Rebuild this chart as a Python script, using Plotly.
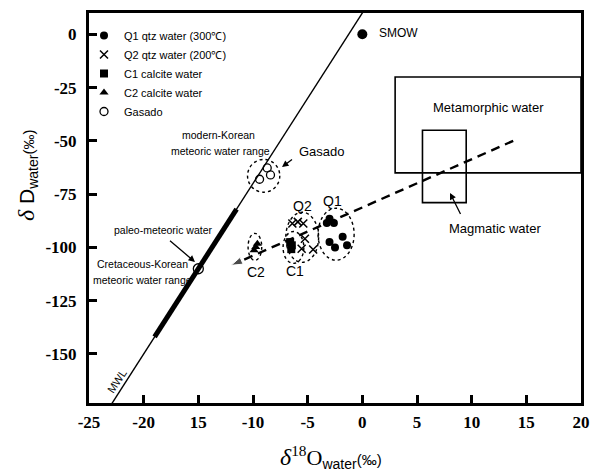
import plotly.graph_objects as go

# ---------------- data ----------------
q1_x = [-3.0, -3.25, -2.6, -1.8, -3.0, -2.5, -1.4]
q1_y = [-86.5, -88.5, -88.5, -95.0, -97.5, -100.0, -99.0]

q2_x = [-6.4, -5.9, -5.4, -5.25, -5.55, -4.5]
q2_y = [-88.8, -88.0, -88.8, -95.9, -100.6, -101.0]

c1_x = [-6.6, -6.45, -6.5]
c1_y = [-97.5, -99.0, -100.8]

c2_x = [-9.6, -9.75, -9.9]
c2_y = [-98.3, -99.8, -101.3]

gasado_x = [-8.7, -8.4, -9.4]
gasado_y = [-62.7, -66.0, -68.0]

smow_x = [0.0]
smow_y = [0.0]

paleo_x = [-15.0]
paleo_y = [-110.0]

mwl_x = [-23.6, 0.6]
mwl_y = [-178.8, 14.8]

cret_x = [-19.0, -11.5]
cret_y = [-142.0, -82.0]

trend_x = [13.8, -12.0]
trend_y = [-50.0, -108.4]

meta_box = dict(x0=3.0, x1=20.0, y0=-20.0, y1=-65.0)
magma_box = dict(x0=5.5, x1=9.5, y0=-45.0, y1=-79.0)

# ellipses (x0, x1, y0, y1)
ellipses = {
    "Gasado": (-10.5, -7.55, -58.7, -74.1),
    "Q1": (-4.05, -0.75, -81.6, -106.0),
    "Q2": (-7.0, -4.0, -83.5, -107.0),
    "C1": (-7.25, -5.35, -92.5, -107.5),
    "C2": (-10.45, -9.2, -93.4, -106.1),
}

x_tickvals = [-25, -20, -15, -10, -5, 0, 5, 10, 15, 20]
x_ticktext = ["-25", "-20", "15", "-10", "-5", "0", "5", "10", "15", "20"]
y_tickvals = [0, -25, -50, -75, -100, -125, -150]
y_ticktext = ["0", "-25", "-50", "-75", "-100", "-125", "-150"]

X_RANGE = [-25, 20]
Y_RANGE = [-173, 10]

# ---------------- layout geometry ----------------
W, H = 598, 472
L, R, T, B = 89, 581, 13, 403


def px(xp):
    return (xp - L) / (R - L)


def py(yp):
    return (B - yp) / (B - T)


SANS = "Liberation Sans"
SERIF = "Liberation Serif"

fig = go.Figure()

# MWL
fig.add_trace(go.Scatter(x=mwl_x, y=mwl_y, mode="lines",
                         line=dict(color="black", width=1.4),
                         showlegend=False, hoverinfo="skip"))
fig.add_trace(go.Scatter(x=cret_x, y=cret_y, mode="lines",
                         line=dict(color="black", width=5),
                         showlegend=False, hoverinfo="skip"))

# trend arrow
fig.add_trace(go.Scatter(x=trend_x, y=trend_y, mode="lines+markers",
                         line=dict(color="black", width=2.4, dash="9px,6px"),
                         marker=dict(symbol="arrow", angleref="previous",
                                     size=[0, 12], color="black"),
                         showlegend=False, hoverinfo="skip"))

# data series
fig.add_trace(go.Scatter(x=q1_x, y=q1_y, mode="markers", name="Q1 qtz water (300℃)",
                         marker=dict(symbol="circle", size=8, color="black")))
fig.add_trace(go.Scatter(x=q2_x, y=q2_y, mode="markers", name="Q2 qtz water (200℃)",
                         marker=dict(symbol="x-thin", size=8, color="black",
                                     line=dict(color="black", width=1.5))))
fig.add_trace(go.Scatter(x=c1_x, y=c1_y, mode="markers", name="C1 calcite water",
                         marker=dict(symbol="square", size=8, color="black")))
fig.add_trace(go.Scatter(x=c2_x, y=c2_y, mode="markers", name="C2 calcite water",
                         marker=dict(symbol="triangle-up", size=8, color="black")))
fig.add_trace(go.Scatter(x=gasado_x, y=gasado_y, mode="markers", name="Gasado",
                         marker=dict(symbol="circle-open", size=8, color="black",
                                     line=dict(color="black", width=1.3))))
fig.add_trace(go.Scatter(x=smow_x, y=smow_y, mode="markers", showlegend=False,
                         marker=dict(symbol="circle", size=10, color="black")))
fig.add_trace(go.Scatter(x=paleo_x, y=paleo_y, mode="markers", showlegend=False,
                         marker=dict(symbol="circle-open", size=10, color="black",
                                     line=dict(color="black", width=1.3))))

shapes = []
for b in (meta_box, magma_box):
    shapes.append(dict(type="rect", xref="x", yref="y", **b,
                       line=dict(color="black", width=1.6)))
for k, (x0, x1, y0, y1) in ellipses.items():
    shapes.append(dict(type="circle", xref="x", yref="y", x0=x0, x1=x1, y0=y0, y1=y1,
                       line=dict(color="black", width=1.4, dash="dot")))

annotations = []


def label(text, xp, yp, size=11, anchor="center", angle=0, font=SANS):
    annotations.append(dict(text=text, xref="paper", yref="paper", x=px(xp), y=py(yp),
                            xanchor=anchor, yanchor="middle", showarrow=False,
                            textangle=angle, font=dict(size=size, family=font, color="black")))


def arrow(xh, yh, xt, yt):
    annotations.append(dict(text=" ", xref="paper", yref="paper", x=px(xh), y=py(yh),
                            ax=xt - xh, ay=yt - yh, showarrow=True, arrowhead=2,
                            arrowsize=1, arrowwidth=1.3, arrowcolor="black",
                            font=dict(size=2)))


label("SMOW", 377, 33, 12, anchor="left")
label("Metamorphic water", 488, 107, 13)
label("Magmatic water", 495, 228, 13)
arrow(450, 193, 462, 217)
label("Gasado", 297, 152, 13, anchor="left")
arrow(282, 167, 294, 158)
label("modern-Korean", 218, 135, 10.5)
label("meteoric water range", 220, 151, 10.5)
label("paleo-meteoric water", 163, 230, 10.5)
arrow(195, 262, 168, 239)
label("Cretaceous-Korean", 142, 264, 10.5)
label("meteoric water range", 142, 280, 10.5)
label("MWL", 117, 381, 11, angle=-57)
label("Q1", 332, 201, 14)
label("Q2", 302, 206, 14)
label("C1", 295, 271, 14)
label("C2", 256, 272, 14)

# axis titles
annotations.append(dict(
    text=("<span style='font-family:Liberation Serif;font-size:24px;font-style:italic'>δ</span>"
          "<span style='font-family:Liberation Serif;font-size:22px'><sup>18</sup>O</span>"
          "<sub style='font-size:12px'>water</sub>"
          "<span style='font-size:15px'>(‰)</span>"),
    xref="paper", yref="paper", x=px(331), y=py(457), xanchor="center", yanchor="middle",
    showarrow=False, font=dict(family=SANS, size=20, color="black")))
annotations.append(dict(
    text=("<span style='font-family:Liberation Serif;font-size:24px;font-style:italic'>δ</span>"
          "<span style='font-size:21px'> D</span>"
          "<sub style='font-size:12px'>water</sub>"
          "<span style='font-size:15px'>(‰)</span>"),
    xref="paper", yref="paper", x=px(27), y=py(176), xanchor="center", yanchor="middle",
    textangle=-90, showarrow=False, font=dict(family=SANS, size=20, color="black")))

axis_common = dict(showgrid=False, zeroline=False, showline=True, linecolor="black",
                   linewidth=3, mirror=True, ticks="inside", ticklen=8, tickwidth=2.5,
                   tickcolor="black",
                   tickfont=dict(family=SERIF, size=17, color="black", weight=700))

fig.update_layout(
    width=W, height=H,
    margin=dict(l=L, r=W - R, t=T, b=H - B, autoexpand=False),
    paper_bgcolor="white", plot_bgcolor="white",
    xaxis=dict(range=X_RANGE, tickvals=x_tickvals, ticktext=x_ticktext,
               ticklabelstandoff=2, **axis_common),
    yaxis=dict(range=Y_RANGE, tickvals=y_tickvals, ticktext=y_ticktext,
               ticklabelstandoff=6, **axis_common),
    shapes=shapes,
    annotations=annotations,
    showlegend=True,
    legend=dict(x=px(84), y=py(21), xanchor="left", yanchor="top",
                bgcolor="rgba(0,0,0,0)", font=dict(family=SANS, size=11, color="black"),
                itemwidth=30, tracegroupgap=0),
)

fig.write_html("out.html", config={"displayModeBar": False},
               post_script="document.body.style.margin='0';")
